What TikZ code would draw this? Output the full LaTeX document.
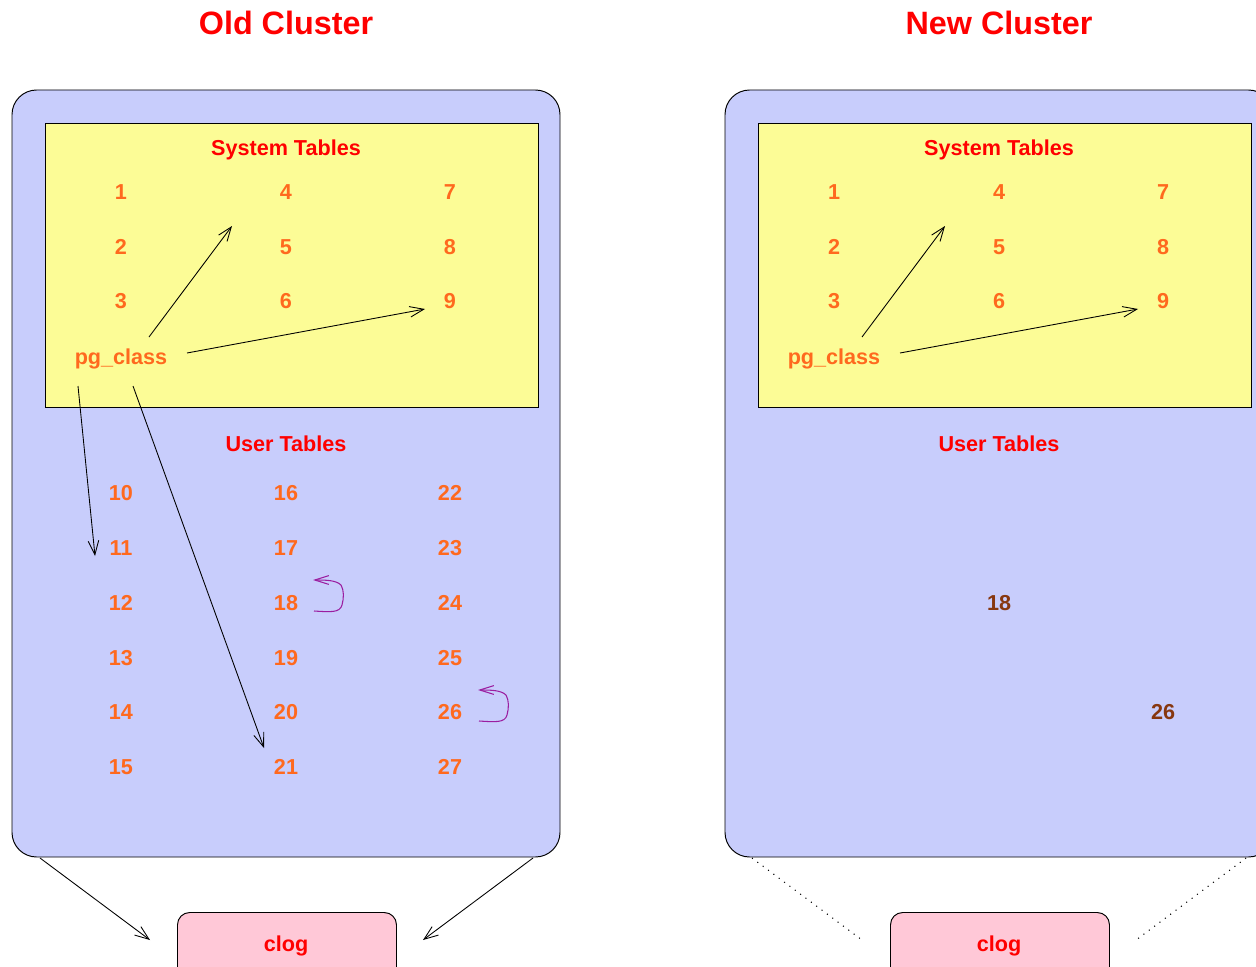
\documentclass[tikz,border=0pt]{standalone}
\usepackage{fontspec}
\setmainfont{Liberation Sans}
\usetikzlibrary{arrows.meta}
\definecolor{blueF}{RGB}{200,205,252}
\definecolor{yellowF}{RGB}{252,252,150}
\definecolor{pinkF}{RGB}{255,200,215}
\definecolor{orangeT}{RGB}{255,105,30}
\definecolor{brownT}{RGB}{135,55,15}
\definecolor{redT}{RGB}{255,0,0}
\definecolor{loopC}{RGB}{155,30,160}
\tikzset{
  cluster/.style={draw=black, line width=0.55pt, fill=blueF, rounded corners=14pt},
  systab/.style={draw=black, line width=0.55pt, fill=yellowF},
  clogbox/.style={draw=black, line width=0.55pt, fill=pinkF, rounded corners=7pt},
  txt/.style={font=\fontsize{12.3}{14}\selectfont\bfseries, inner sep=0pt, text height=8.8pt, text depth=0pt},
  num/.style={txt, text=orangeT},
  keptnum/.style={txt, text=brownT},
  head/.style={txt, text=redT},
  title/.style={text=redT, font=\fontsize{18.4}{22}\selectfont\bfseries, inner sep=0pt, text height=13.2pt, text depth=0pt},
  conn/.style={draw=black, line width=0.5pt, -{Straight Barb[length=8pt,width=6pt,line width=0.5pt]}},
  loopconn/.style={draw=loopC, line width=0.6pt, -{Straight Barb[length=8pt,width=5pt,line width=0.6pt]}},
  dotconn/.style={draw=black, line width=0.6pt, dash pattern=on 0.6pt off 3.2pt}
}
\begin{document}
\begin{tikzpicture}[x=0.02cm, y=-0.02cm]
\clip (0,0) rectangle (1256,966);
\fill[white] (0,0) rectangle (1256,966);

% ---------- Old cluster ----------
\node[title] (toldc) at (286,23) {Old Cluster};
\path[cluster] (12,90) rectangle (560,857);
\path[systab] (45,123) rectangle (538,407);
\node[head] (sysA) at (286,148) {System Tables};
\node[num] (a1) at (121,192) {1};
\node[num] (a2) at (121,247) {2};
\node[num] (a3) at (121,301) {3};
\node[num] (a4) at (286,192) {4};
\node[num] (a5) at (286,247) {5};
\node[num] (a6) at (286,301) {6};
\node[num] (a7) at (450,192) {7};
\node[num] (a8) at (450,247) {8};
\node[num] (a9) at (450,301) {9};
\node[num] (pgA) at (121,357) {pg\_class};
\node[head] (usrA) at (286,444) {User Tables};
\node[num] (a10) at (121,493) {10};
\node[num] (a11) at (121,548) {11};
\node[num] (a12) at (121,603) {12};
\node[num] (a13) at (121,658) {13};
\node[num] (a14) at (121,712) {14};
\node[num] (a15) at (121,767) {15};
\node[num] (a16) at (286,493) {16};
\node[num] (a17) at (286,548) {17};
\node[num] (a18) at (286,603) {18};
\node[num] (a19) at (286,658) {19};
\node[num] (a20) at (286,712) {20};
\node[num] (a21) at (286,767) {21};
\node[num] (a22) at (450,493) {22};
\node[num] (a23) at (450,548) {23};
\node[num] (a24) at (450,603) {24};
\node[num] (a25) at (450,658) {25};
\node[num] (a26) at (450,712) {26};
\node[num] (a27) at (450,767) {27};

\coordinate (pA1) at (149,337);
\coordinate (eA4) at (232,226);
\coordinate (pA2) at (187,353);
\coordinate (eA9) at (425,309);
\coordinate (pA3) at (78,386);
\coordinate (eA11) at (95,556);
\coordinate (pA4) at (133,386);
\coordinate (eA21) at (264,748);
\draw[conn] (pA1) -- (eA4);
\draw[conn] (pA2) -- (eA9);
\draw[conn] (pA3) -- (eA11);
\draw[conn] (pA4) -- (eA21);

\coordinate (l18s) at (314,611);
\coordinate (l18e) at (313,580);
\draw[loopconn] (l18s) .. controls (330,612) and (340,613) .. (342,605)
  .. controls (344,598) and (344,590) .. (341,585)
  .. controls (336,580) and (325,580) .. (l18e);
\coordinate (l26s) at (479,721);
\coordinate (l26e) at (478,690);
\draw[loopconn] (l26s) .. controls (495,722) and (505,723) .. (507,715)
  .. controls (509,708) and (509,700) .. (506,695)
  .. controls (501,690) and (490,690) .. (l26e);

\node[clogbox, minimum width=219*0.02cm, minimum height=70*0.02cm, anchor=north west] (clogA) at (177,912) {};
\node[head] (clogAt) at (286,944) {clog};
\coordinate (cAl) at (40,858);
\coordinate (cAr) at (533,858);
\coordinate (cAle) at (150,940);
\coordinate (cAre) at (423,940);
\draw[conn] (cAl) -- (cAle);
\draw[conn] (cAr) -- (cAre);

% ---------- New cluster ----------
\node[title] (tnewc) at (999,23) {New Cluster};
\path[cluster] (725,90) rectangle (1273,857);
\path[systab] (758,123) rectangle (1251,407);
\node[head] (sysB) at (999,148) {System Tables};
\node[num] (b1) at (834,192) {1};
\node[num] (b2) at (834,247) {2};
\node[num] (b3) at (834,301) {3};
\node[num] (b4) at (999,192) {4};
\node[num] (b5) at (999,247) {5};
\node[num] (b6) at (999,301) {6};
\node[num] (b7) at (1163,192) {7};
\node[num] (b8) at (1163,247) {8};
\node[num] (b9) at (1163,301) {9};
\node[num] (pgB) at (834,357) {pg\_class};
\node[head] (usrB) at (999,444) {User Tables};
\node[keptnum] (b18) at (999,603) {18};
\node[keptnum] (b26) at (1163,712) {26};

\coordinate (pB1) at (862,337);
\coordinate (eB4) at (945,226);
\coordinate (pB2) at (900,353);
\coordinate (eB9) at (1138,309);
\draw[conn] (pB1) -- (eB4);
\draw[conn] (pB2) -- (eB9);

\node[clogbox, minimum width=219*0.02cm, minimum height=70*0.02cm, anchor=north west] (clogB) at (890,912) {};
\node[head] (clogBt) at (999,944) {clog};
\coordinate (cBl) at (752,858);
\coordinate (cBr) at (1246,858);
\coordinate (cBle) at (862,940);
\coordinate (cBre) at (1136,940);
\draw[dotconn] (cBl) -- (cBle);
\draw[dotconn] (cBr) -- (cBre);
\end{tikzpicture}
\end{document}
